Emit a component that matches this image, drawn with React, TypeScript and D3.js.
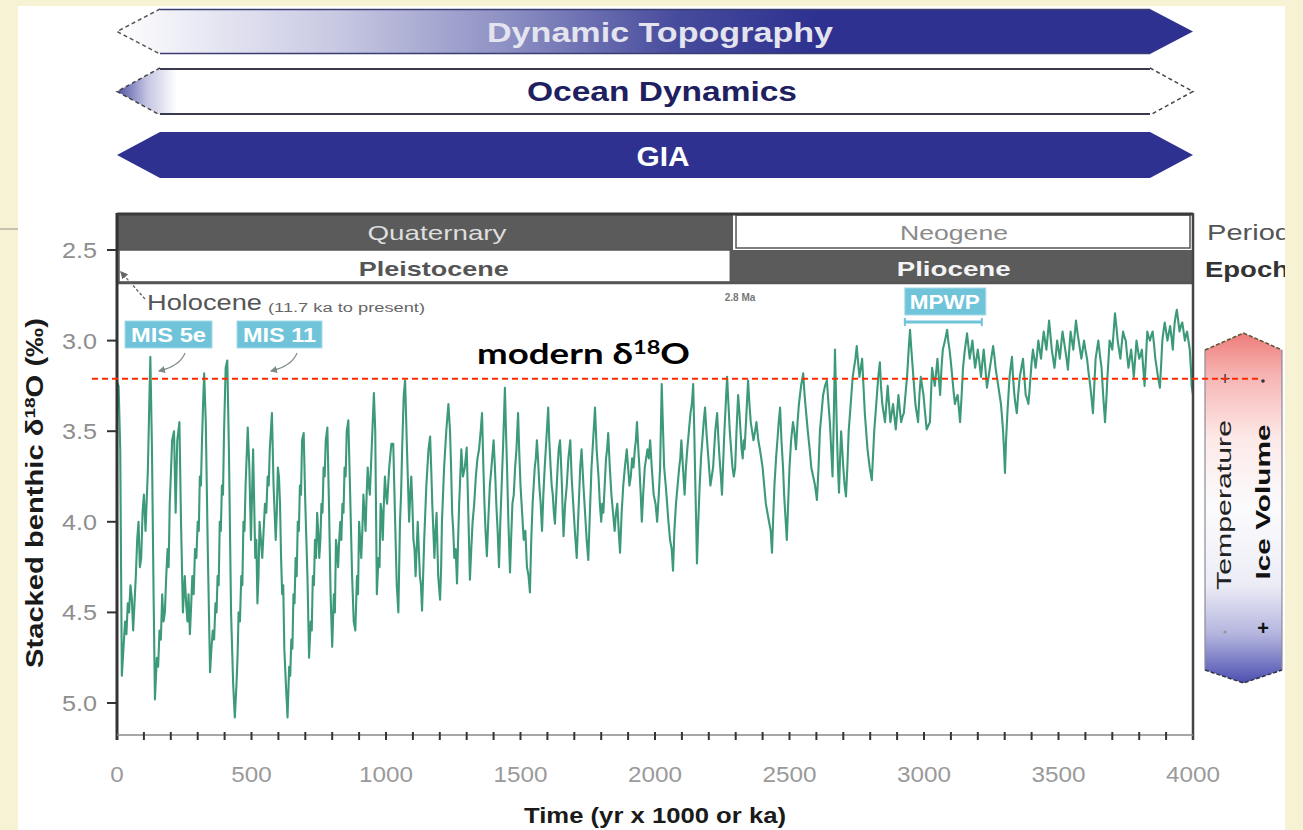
import React from 'react';
import * as d3 from 'd3';

// ---------- data ----------
const xTicks = [0, 500, 1000, 1500, 2000, 2500, 3000, 3500, 4000];
const yTicks = [2.5, 3.0, 3.5, 4.0, 4.5, 5.0];
const minorTickStep = 100;
const drivers = ['Dynamic Topography', 'Ocean Dynamics', 'GIA'];
const periods = [
  { name: 'Quaternary', from: 0, to: 2290 },
  { name: 'Neogene', from: 2290, to: 4000 },
];
const epochs = [
  { name: 'Pleistocene', from: 0, to: 2280 },
  { name: 'Pliocene', from: 2280, to: 4000 },
];
const modernD18O = 3.21;
const misLabels = ['MIS 5e', 'MIS 11'];
const mpwpRange = [2925, 3215];

// [age (ka), stacked benthic d18O (permil)]
const stack: [number, number][] = [
  [0, 3.23], [6, 3.25], [12, 3.6], [18, 4.85], [24, 4.7], [30, 4.55], [35, 4.62], [40, 4.45], [45, 4.5], [50, 4.35], [55, 4.42], [60, 4.6], [65, 4.45], [70, 4.3],
  [75, 4.1], [80, 4.0], [85, 4.25], [90, 4.2], [95, 3.95], [100, 3.85], [106, 4.05], [110, 3.9], [115, 3.7], [120, 3.35], [124, 3.09], [130, 3.6], [136, 4.4], [141, 4.98], [148, 4.75],
  [153, 4.8], [158, 4.6], [163, 4.65], [168, 4.4], [173, 4.55], [178, 4.5], [183, 4.3], [188, 4.15], [192, 4.25], [196, 3.9], [200, 3.75], [205, 3.55], [212, 3.5], [218, 3.95], [224, 3.55], [232, 3.45],
  [238, 4.0], [245, 4.5], [252, 4.3], [257, 4.45], [262, 4.55], [266, 4.4], [271, 4.62], [276, 4.45], [280, 4.3], [285, 4.4], [290, 4.15], [295, 4.2], [300, 4.0], [304, 4.05], [308, 3.75], [312, 3.8], [316, 3.55],
  [320, 3.35], [324, 3.18], [330, 3.45], [338, 4.2], [346, 4.83], [351, 4.7], [356, 4.6], [361, 4.65], [366, 4.45], [370, 4.5], [374, 4.3], [378, 4.35], [382, 4.0], [386, 4.05], [390, 3.8], [394, 3.85], [398, 3.5],
  [404, 3.15], [410, 3.11], [416, 3.6], [424, 4.5], [432, 4.9], [438, 5.08], [444, 4.9], [448, 4.75], [452, 4.5], [457, 4.55], [462, 4.3], [466, 4.35], [470, 4.0], [474, 4.05],
  [478, 3.8], [486, 3.48], [492, 3.7], [498, 4.1], [506, 3.6], [510, 3.9], [514, 4.2], [518, 4.1], [522, 4.45], [526, 4.3], [530, 4.0], [535, 4.1], [540, 4.2], [545, 4.05], [550, 3.9],
  [555, 3.95], [560, 3.75], [564, 3.8], [568, 3.6], [576, 3.4], [582, 3.8], [590, 4.1], [594, 3.95], [598, 3.7], [602, 3.75], [606, 3.9], [610, 4.2], [614, 4.4], [618, 4.35], [622, 4.7], [628, 4.9],
  [634, 5.08], [640, 4.8], [644, 4.85], [648, 4.65], [652, 4.7], [656, 4.4], [660, 4.45], [664, 4.2], [668, 4.3], [672, 4.0], [676, 4.05], [680, 3.8], [684, 3.85], [688, 3.55], [694, 3.51], [700, 3.9],
  [708, 4.3], [714, 4.75], [720, 4.55], [724, 4.6], [728, 4.3], [732, 4.35], [736, 4.1], [740, 4.2], [744, 3.95], [748, 4.05], [752, 4.2], [756, 4.1], [760, 3.9], [764, 3.95], [768, 3.7], [772, 3.75], [776, 3.55],
  [782, 3.48], [788, 3.9], [794, 4.4], [800, 4.69], [806, 4.4], [810, 4.5], [814, 4.1], [818, 4.15], [822, 4.25], [826, 4.1], [830, 4.0], [834, 4.1], [838, 3.9], [842, 3.95], [846, 3.7], [850, 3.75],
  [854, 3.5], [860, 3.44], [866, 3.8], [874, 4.3], [880, 4.55], [886, 4.6], [892, 4.3], [896, 4.4], [900, 4.0], [904, 4.1], [908, 4.2], [912, 4.05], [916, 3.85], [920, 3.95],
  [924, 4.05], [928, 3.85], [932, 3.7], [936, 3.8], [940, 3.85], [944, 3.7], [948, 3.55], [955, 3.29], [960, 3.5], [966, 4.4], [972, 4.2], [976, 4.25], [980, 3.9], [984, 3.95], [988, 4.1],
  [992, 3.9], [996, 3.75], [1000, 3.85], [1004, 3.9], [1008, 3.8], [1012, 3.7], [1020, 3.57], [1027, 3.57], [1034, 4.0], [1040, 4.35], [1046, 4.5], [1052, 4.0], [1056, 3.85], [1060, 3.6],
  [1066, 3.3], [1071, 3.22], [1078, 3.6], [1082, 3.8], [1086, 4.0], [1090, 3.85], [1094, 3.75], [1098, 3.9], [1102, 4.1], [1106, 4.15], [1110, 4.3], [1114, 4.15], [1118, 4.0], [1122, 4.15], [1126, 4.3], [1130, 4.35], [1134, 4.49],
  [1138, 4.3], [1142, 4.1], [1146, 3.95], [1150, 3.8], [1154, 3.7], [1158, 3.6], [1164, 3.53], [1168, 3.7], [1172, 3.9], [1176, 4.05], [1180, 4.2], [1184, 4.05], [1188, 3.95], [1194, 4.3], [1201, 4.43], [1205, 4.25], [1208, 4.0],
  [1212, 3.85], [1216, 3.7], [1220, 3.6], [1224, 3.5], [1232, 3.35], [1238, 3.5], [1242, 3.7], [1246, 3.95], [1250, 4.05], [1254, 4.2], [1259, 4.15], [1264, 4.34], [1268, 4.1], [1272, 3.9], [1276, 3.75], [1280, 3.6], [1286, 3.75],
  [1293, 3.7], [1300, 3.59], [1306, 3.95], [1312, 4.32], [1317, 4.15], [1322, 4.0], [1328, 3.9], [1334, 3.75], [1340, 3.65], [1346, 3.6], [1352, 3.5], [1357, 3.4], [1362, 3.7], [1366, 3.9], [1370, 4.05], [1375, 4.19], [1380, 4.0], [1386, 3.8], [1392, 3.7], [1400, 3.55],
  [1405, 3.7], [1410, 3.9], [1415, 4.05], [1420, 4.25], [1425, 4.0], [1430, 3.8], [1436, 3.55], [1442, 3.26], [1446, 3.5], [1450, 3.7], [1455, 4.0], [1461, 4.28], [1465, 4.1], [1470, 3.9], [1475, 3.85], [1480, 3.7], [1485, 3.6], [1491, 3.4], [1495, 3.6], [1500, 3.8],
  [1506, 3.95], [1512, 4.1], [1518, 4.05], [1524, 4.25], [1530, 4.3], [1535, 4.39], [1540, 4.1], [1545, 3.9], [1549, 3.8], [1553, 3.7], [1557, 3.65], [1561, 3.55], [1565, 3.65], [1570, 3.8], [1575, 3.9], [1580, 4.05], [1585, 3.85], [1590, 3.7], [1596, 3.55], [1603, 3.37],
  [1607, 3.55], [1612, 3.7], [1616, 3.8], [1620, 3.85], [1624, 3.95], [1628, 4.01], [1633, 3.85], [1638, 3.7], [1642, 3.6], [1647, 3.55], [1650, 3.65], [1654, 3.8], [1657, 3.95], [1660, 4.08], [1666, 3.9], [1672, 3.8], [1678, 3.65], [1685, 3.55], [1690, 3.75], [1696, 3.9],
  [1702, 4.05], [1709, 4.2], [1714, 4.0], [1718, 3.85], [1722, 3.7], [1727, 3.6], [1734, 3.8], [1740, 3.95], [1746, 4.1], [1752, 4.21], [1758, 3.95], [1764, 3.7], [1770, 3.55], [1777, 3.37], [1783, 3.6], [1790, 3.75], [1795, 3.9], [1800, 4.0], [1804, 3.9], [1808, 3.95],
  [1813, 3.8], [1818, 3.65], [1822, 3.6], [1826, 3.51], [1832, 3.7], [1838, 3.85], [1844, 3.95], [1850, 4.05], [1855, 3.95], [1860, 3.9], [1865, 4.05], [1870, 4.17], [1876, 3.95], [1882, 3.8], [1888, 3.7], [1895, 3.6], [1900, 3.7], [1905, 3.8], [1910, 3.75], [1915, 3.65],
  [1920, 3.7], [1925, 3.6], [1929, 3.55], [1933, 3.45], [1938, 3.6], [1942, 3.7], [1947, 3.85], [1951, 4.0], [1956, 3.85], [1962, 3.7], [1967, 3.65], [1972, 3.6], [1977, 3.65], [1982, 3.55], [1988, 3.7], [1995, 3.85], [2002, 3.9], [2008, 4.0], [2014, 3.85], [2019, 3.7],
  [2025, 3.24], [2030, 3.5], [2034, 3.7], [2040, 3.8], [2045, 3.9], [2050, 4.0], [2056, 4.1], [2062, 4.15], [2067, 4.27], [2072, 4.05], [2078, 3.9], [2084, 3.8], [2090, 3.7], [2094, 3.65], [2098, 3.55], [2104, 3.7], [2110, 3.85], [2115, 3.7], [2120, 3.6], [2126, 3.5],
  [2132, 3.4], [2137, 3.35], [2142, 3.24], [2146, 3.5], [2150, 3.8], [2153, 4.0], [2156, 4.23], [2161, 4.0], [2166, 3.8], [2171, 3.65], [2176, 3.55], [2181, 3.45], [2186, 3.37], [2191, 3.5], [2196, 3.6], [2201, 3.7], [2206, 3.8], [2211, 3.75], [2216, 3.7], [2220, 3.6],
  [2224, 3.5], [2231, 3.4], [2236, 3.55], [2240, 3.65], [2245, 3.75], [2249, 3.85], [2254, 3.65], [2258, 3.5], [2263, 3.35], [2268, 3.2], [2273, 3.35], [2278, 3.5], [2283, 3.6], [2288, 3.7], [2293, 3.75], [2298, 3.7], [2303, 3.5], [2309, 3.3],
  [2314, 3.4], [2318, 3.5], [2322, 3.6], [2326, 3.65], [2330, 3.55], [2333, 3.6], [2340, 3.4], [2346, 3.22], [2351, 3.35], [2356, 3.45], [2361, 3.5], [2366, 3.55], [2372, 3.5], [2377, 3.45], [2384, 3.55], [2390, 3.6], [2395, 3.65], [2400, 3.7], [2406, 3.8], [2412, 3.9],
  [2418, 3.95], [2424, 4.0], [2430, 4.05], [2435, 4.17], [2440, 3.95], [2444, 3.8], [2450, 3.65], [2455, 3.55], [2460, 3.45], [2465, 3.37], [2470, 3.55], [2476, 3.7], [2480, 3.85], [2484, 3.95], [2490, 4.1], [2495, 3.9], [2500, 3.7], [2506, 3.55], [2513, 3.45],
  [2518, 3.5], [2524, 3.6], [2530, 3.45], [2535, 3.35], [2543, 3.25], [2551, 3.18], [2556, 3.3], [2562, 3.4], [2568, 3.5], [2575, 3.6], [2581, 3.7], [2588, 3.75], [2595, 3.8], [2602, 3.88], [2608, 3.7], [2613, 3.5], [2619, 3.4], [2625, 3.3], [2632, 3.25], [2639, 3.22],
  [2645, 3.35], [2650, 3.45], [2655, 3.6], [2660, 3.75], [2665, 3.4], [2669, 3.05], [2673, 3.3], [2676, 3.5], [2680, 3.7], [2684, 3.84], [2688, 3.65], [2692, 3.5], [2696, 3.6], [2700, 3.7], [2705, 3.8], [2710, 3.86], [2715, 3.7], [2720, 3.5], [2725, 3.4], [2730, 3.3],
  [2735, 3.2], [2740, 3.15], [2745, 3.1], [2750, 3.03], [2755, 3.12], [2760, 3.2], [2765, 3.15], [2770, 3.1], [2775, 3.25], [2780, 3.4], [2785, 3.5], [2790, 3.6], [2798, 3.7], [2806, 3.77], [2810, 3.65], [2815, 3.5], [2820, 3.4], [2825, 3.3], [2830, 3.2], [2836, 3.12],
  [2840, 3.25], [2845, 3.35], [2850, 3.4], [2855, 3.45], [2860, 3.35], [2865, 3.25], [2870, 3.35], [2875, 3.45], [2880, 3.4], [2885, 3.35], [2890, 3.42], [2895, 3.49], [2900, 3.4], [2905, 3.3], [2910, 3.38], [2915, 3.45], [2920, 3.42], [2925, 3.4], [2931, 3.3], [2937, 3.2],
  [2943, 3.05], [2948, 2.94], [2953, 3.05], [2958, 3.15], [2963, 3.25], [2968, 3.35], [2973, 3.4], [2978, 3.45], [2983, 3.3], [2988, 3.2], [2993, 3.25], [2998, 3.3], [3004, 3.4], [3010, 3.49], [3016, 3.47], [3022, 3.45], [3026, 3.3], [3030, 3.15], [3035, 3.2], [3040, 3.25],
  [3045, 3.18], [3050, 3.1], [3055, 3.2], [3060, 3.3], [3065, 3.15], [3070, 3.05], [3078, 3.0], [3086, 2.94], [3090, 3.0], [3095, 3.05], [3100, 3.12], [3105, 3.2], [3110, 3.28], [3115, 3.35], [3120, 3.32], [3125, 3.3], [3130, 3.38], [3134, 3.45], [3140, 3.3], [3145, 3.15],
  [3152, 3.05], [3160, 2.96], [3165, 3.03], [3170, 3.1], [3175, 3.05], [3180, 3.0], [3185, 3.08], [3190, 3.15], [3195, 3.1], [3200, 3.05], [3206, 3.12], [3212, 3.2], [3217, 3.12], [3222, 3.05], [3228, 3.15], [3234, 3.26], [3240, 3.2], [3245, 3.15], [3251, 3.09], [3257, 3.03],
  [3262, 3.09], [3266, 3.15], [3271, 3.2], [3276, 3.25], [3281, 3.3], [3286, 3.35], [3290, 3.42], [3294, 3.5], [3298, 3.62], [3301, 3.73], [3305, 3.55], [3310, 3.4], [3314, 3.3], [3318, 3.2], [3322, 3.15], [3327, 3.09], [3331, 3.2], [3336, 3.3], [3340, 3.35], [3345, 3.4],
  [3350, 3.3], [3356, 3.2], [3362, 3.15], [3368, 3.1], [3373, 3.2], [3378, 3.3], [3383, 3.32], [3388, 3.35], [3392, 3.28], [3396, 3.2], [3400, 3.12], [3405, 3.05], [3410, 3.1], [3415, 3.15], [3420, 3.08], [3425, 3.0], [3430, 3.05], [3435, 3.1], [3440, 3.02], [3445, 2.95],
  [3450, 3.0], [3455, 3.05], [3460, 2.97], [3465, 2.89], [3470, 2.97], [3475, 3.05], [3480, 3.1], [3485, 3.15], [3490, 3.08], [3495, 3.0], [3500, 3.05], [3505, 3.1], [3510, 3.02], [3515, 2.95], [3520, 3.0], [3525, 3.05], [3530, 3.1], [3535, 3.16], [3540, 3.05], [3545, 2.95],
  [3550, 3.0], [3555, 3.05], [3560, 2.97], [3565, 2.89], [3570, 2.95], [3575, 3.0], [3580, 3.05], [3585, 3.1], [3590, 3.05], [3595, 3.0], [3600, 3.05], [3606, 3.1], [3612, 3.18], [3618, 3.25], [3623, 3.32], [3628, 3.4], [3633, 3.25], [3638, 3.1], [3643, 3.05], [3648, 3.0],
  [3654, 3.08], [3660, 3.15], [3666, 3.3], [3673, 3.45], [3678, 3.32], [3682, 3.2], [3686, 3.1], [3690, 3.0], [3695, 3.02], [3700, 3.05], [3705, 2.95], [3710, 2.85], [3715, 2.92], [3720, 3.0], [3725, 3.05], [3730, 3.1], [3735, 3.02], [3740, 2.95], [3745, 2.98], [3750, 3.0],
  [3755, 3.08], [3760, 3.15], [3765, 3.1], [3770, 3.05], [3775, 3.12], [3780, 3.2], [3785, 3.1], [3790, 3.0], [3795, 3.05], [3800, 3.1], [3805, 3.08], [3810, 3.05], [3815, 3.15], [3820, 3.25], [3825, 3.1], [3830, 2.95], [3835, 2.98], [3840, 3.0], [3845, 2.97], [3850, 2.95],
  [3855, 3.02], [3860, 3.1], [3865, 3.15], [3870, 3.2], [3877, 3.26], [3882, 3.12], [3886, 3.0], [3890, 2.95], [3895, 2.9], [3900, 2.95], [3905, 3.0], [3910, 2.96], [3915, 2.92], [3920, 2.98], [3925, 3.05], [3928, 2.97], [3932, 2.9], [3936, 2.86], [3940, 2.83], [3945, 2.89],
  [3950, 2.95], [3955, 2.92], [3960, 2.9], [3965, 2.95], [3970, 3.0], [3974, 2.97], [3978, 2.95], [3983, 3.0], [3988, 3.05], [3992, 3.15], [3995, 3.25], [4000, 3.3],
];

// ---------- layout ----------
const W = 1303;
const H = 830;
const CREAM = '#F8F2D4';
const NAVY = '#2E3190';
const SANS = '"Liberation Sans", Arial, Helvetica, sans-serif';

export default function App() {
  const x = d3.scaleLinear().domain([0, 4000]).range([117, 1193]);
  const y = d3.scaleLinear().domain([2.5, 5.0]).range([250, 703]);
  const plotTop = 213;
  const plotBottom = 735;
  const periodBottom = 250;
  const epochBottom = 284;
  const left = x(0);
  const right = x(4000);

  const line = d3
    .line<[number, number]>()
    .x((d) => x(d[0]))
    .y((d) => y(d[1]));

  const minorTicks = d3.range(minorTickStep, 4000, minorTickStep);

  // driver arrows
  const arrowRows = [
    { top: 9, bot: 54 },
    { top: 68, bot: 115 },
    { top: 132, bot: 178 },
  ];
  const head = 43;
  const arrowPts = (t: number, b: number) => {
    const m = (t + b) / 2;
    return `${left},${m} ${left + head},${t} ${right - head},${t} ${right},${m} ${right - head},${b} ${left + head},${b}`;
  };

  const yModern = y(modernD18O);
  const tickLabelWidth = (t: number) => String(t).length * 13.5;

  return (
    <svg
      width={W}
      height={H}
      viewBox={`0 0 ${W} ${H}`}
      style={{ position: 'absolute', left: 0, top: 0, display: 'block' }}
    >
      <defs>
        <linearGradient id="dtGrad" gradientUnits="userSpaceOnUse" x1={left} y1="0" x2={right} y2="0">
          <stop offset="0" stopColor="#ffffff" />
          <stop offset="0.04" stopColor="#f3f3f9" />
          <stop offset="0.2" stopColor="#c9cae3" />
          <stop offset="0.36" stopColor="#8e91c4" />
          <stop offset="0.52" stopColor="#474b9c" />
          <stop offset="0.65" stopColor={NAVY} />
          <stop offset="1" stopColor={NAVY} />
        </linearGradient>
        <linearGradient id="odGrad" gradientUnits="userSpaceOnUse" x1={left} y1="0" x2={left + 60} y2="0">
          <stop offset="0" stopColor="#4e52a4" />
          <stop offset="0.5" stopColor="#c4c5e2" />
          <stop offset="1" stopColor="#ffffff" />
        </linearGradient>
        <linearGradient id="tempGrad" x1="0" y1="0" x2="0" y2="1">
          <stop offset="0" stopColor="#ee7c7a" />
          <stop offset="0.12" stopColor="#f6b4b2" />
          <stop offset="0.3" stopColor="#fde9e8" />
          <stop offset="0.5" stopColor="#fbfbfd" />
          <stop offset="0.72" stopColor="#ececf6" />
          <stop offset="0.86" stopColor="#b4b5de" />
          <stop offset="1" stopColor="#4c4fb0" />
        </linearGradient>
        <marker id="ah" viewBox="0 0 6 6" refX="5" refY="3" markerWidth="6" markerHeight="6" orient="auto">
          <path d="M0,0 L6,3 L0,6 z" fill="#7d8a88" />
        </marker>
        <marker id="ah2" viewBox="0 0 6 6" refX="5" refY="3" markerWidth="6" markerHeight="6" orient="auto">
          <path d="M0,0 L6,3 L0,6 z" fill="#666" />
        </marker>
      </defs>

      {/* background */}
      <rect x={0} y={0} width={W} height={H} fill={CREAM} />
      <rect x={18} y={6} width={1267} height={H - 6} fill="#ffffff" />
      <line x1={0} x2={18} y1={229} y2={229} stroke="#b9b3a2" strokeWidth={1.5} />

      {/* driver arrows */}
      <polygon points={arrowPts(arrowRows[0].top, arrowRows[0].bot)} fill="url(#dtGrad)" />
      <line x1={left + head} x2={right - head} y1={arrowRows[0].top + 0.5} y2={arrowRows[0].top + 0.5} stroke="#3b3d70" strokeWidth={1.5} />
      <line x1={left + head} x2={right - head} y1={arrowRows[0].bot - 0.5} y2={arrowRows[0].bot - 0.5} stroke="#3b3d70" strokeWidth={1.5} />
      <polyline
        points={`${left + head},${arrowRows[0].top} ${left},${(arrowRows[0].top + arrowRows[0].bot) / 2} ${left + head},${arrowRows[0].bot}`}
        fill="none" stroke="#555" strokeWidth={1.5} strokeDasharray="4 3"
      />
      <polygon points={arrowPts(arrowRows[1].top, arrowRows[1].bot)} fill="#ffffff" />
      <polygon
        points={`${left + head},${arrowRows[1].top} ${left},${(arrowRows[1].top + arrowRows[1].bot) / 2} ${left + head},${arrowRows[1].bot} ${left + 62},${arrowRows[1].bot} ${left + 62},${arrowRows[1].top}`}
        fill="url(#odGrad)"
      />
      <line x1={left + head} x2={right - head} y1={arrowRows[1].top + 1} y2={arrowRows[1].top + 1} stroke="#3a3a4e" strokeWidth={2} />
      <line x1={left + head} x2={right - head} y1={arrowRows[1].bot - 1} y2={arrowRows[1].bot - 1} stroke="#3a3a4e" strokeWidth={2} />
      <polyline
        points={`${left + head},${arrowRows[1].top} ${left},${(arrowRows[1].top + arrowRows[1].bot) / 2} ${left + head},${arrowRows[1].bot}`}
        fill="none" stroke="#444" strokeWidth={1.5} strokeDasharray="4 3"
      />
      <polyline
        points={`${right - head},${arrowRows[1].top} ${right},${(arrowRows[1].top + arrowRows[1].bot) / 2} ${right - head},${arrowRows[1].bot}`}
        fill="none" stroke="#444" strokeWidth={1.5} strokeDasharray="4 3"
      />
      <polygon points={arrowPts(arrowRows[2].top, arrowRows[2].bot)} fill={NAVY} />

      <text x={660} y={42} textAnchor="middle" fontFamily={SANS} fontWeight="bold" fontSize={27}
        fill="#e4e4ee" textLength={346} lengthAdjust="spacingAndGlyphs">{drivers[0]}</text>
      <text x={662} y={101} textAnchor="middle" fontFamily={SANS} fontWeight="bold" fontSize={27}
        fill="#1e2060" textLength={270} lengthAdjust="spacingAndGlyphs">{drivers[1]}</text>
      <text x={663} y={166} textAnchor="middle" fontFamily={SANS} fontWeight="bold" fontSize={27}
        fill="#ffffff" textLength={53} lengthAdjust="spacingAndGlyphs">{drivers[2]}</text>

      {/* period / epoch bands */}
      <rect x={left} y={plotTop} width={x(periods[0].to) - left} height={periodBottom - plotTop} fill="#5b5b5b" />
      <rect x={x(periods[1].from) + 3} y={plotTop + 2} width={x(periods[1].to) - x(periods[1].from) - 6}
        height={periodBottom - plotTop - 4} fill="#fff" stroke="#555" strokeWidth={1.5} />
      <rect x={left + 2} y={periodBottom} width={x(epochs[0].to) - left - 2} height={epochBottom - periodBottom - 2}
        fill="#fff" stroke="#555" strokeWidth={1.5} />
      <rect x={x(epochs[1].from)} y={periodBottom} width={x(epochs[1].to) - x(epochs[1].from)} height={epochBottom - periodBottom}
        fill="#5b5b5b" />
      <line x1={left} x2={right} y1={epochBottom - 1} y2={epochBottom - 1} stroke="#555" strokeWidth={2.5} />

      <text x={437} y={240} textAnchor="middle" fontFamily={SANS} fontSize={21}
        fill="#dedede" textLength={139} lengthAdjust="spacingAndGlyphs">{periods[0].name}</text>
      <text x={(x(periods[1].from) + right) / 2 - 9} y={240} textAnchor="middle" fontFamily={SANS} fontSize={21}
        fill="#8a8a8a" textLength={108} lengthAdjust="spacingAndGlyphs">{periods[1].name}</text>
      <text x={(left + x(epochs[0].to)) / 2 + 10} y={276} textAnchor="middle" fontFamily={SANS} fontWeight="bold" fontSize={21}
        fill="#555" textLength={150} lengthAdjust="spacingAndGlyphs">{epochs[0].name}</text>
      <text x={(x(epochs[1].from) + right) / 2 - 8} y={276} textAnchor="middle" fontFamily={SANS} fontWeight="bold" fontSize={21}
        fill="#f4f4f4" textLength={114} lengthAdjust="spacingAndGlyphs">{epochs[1].name}</text>

      <text x={1207} y={240} fontFamily={SANS} fontSize={22} fill="#555" textLength={84} lengthAdjust="spacingAndGlyphs">Period</text>
      <text x={1205} y={277} fontFamily={SANS} fontWeight="bold" fontSize={22} fill="#333" textLength={84} lengthAdjust="spacingAndGlyphs">Epoch</text>

      {/* data line */}
      <path d={line(stack) || ''} fill="none" stroke="#3d9a78" strokeWidth={2.1} strokeLinejoin="round" />

      {/* frame */}
      <line x1={left} x2={left} y1={plotTop} y2={plotBottom + 5} stroke="#333" strokeWidth={3} />
      <line x1={left} x2={right} y1={plotTop + 1} y2={plotTop + 1} stroke="#3a3a3a" strokeWidth={3} />
      <line x1={right} x2={right} y1={plotTop} y2={plotBottom + 5} stroke="#444" strokeWidth={2.5} />
      <line x1={left} x2={right} y1={plotBottom} y2={plotBottom} stroke="#8a8a8a" strokeWidth={1.5} />

      {/* x ticks */}
      {minorTicks.map((t) => (
        <line key={`mt${t}`} x1={x(t)} x2={x(t)} y1={plotBottom - 3} y2={plotBottom + 5} stroke="#333" strokeWidth={2} />
      ))}
      {xTicks.map((t) => (
        <text key={`xt${t}`} x={x(t)} y={782} textAnchor="middle" fontFamily={SANS} fontSize={22} fill="#9a9a9a"
          textLength={tickLabelWidth(t)} lengthAdjust="spacingAndGlyphs">
          {t}
        </text>
      ))}
      {yTicks.map((v) => (
        <g key={`yt${v}`}>
          <line x1={left - 10} x2={left} y1={y(v)} y2={y(v)} stroke="#333" strokeWidth={2} />
          <text x={97} y={y(v) + 8} textAnchor="end" fontFamily={SANS} fontSize={22} fill="#8e8e8e"
            textLength={35} lengthAdjust="spacingAndGlyphs">
            {v.toFixed(1)}
          </text>
        </g>
      ))}

      {/* axis titles */}
      <text x={655} y={823} textAnchor="middle" fontFamily={SANS} fontWeight="bold" fontSize={22} fill="#1a1a1a"
        textLength={262} lengthAdjust="spacingAndGlyphs">Time (yr x 1000 or ka)</text>
      <text transform="translate(43,493) rotate(-90)" textAnchor="middle" fontFamily={SANS} fontWeight="bold"
        fontSize={23} fill="#1a1a1a" textLength={350} lengthAdjust="spacingAndGlyphs">
        Stacked benthic δ<tspan fontSize={15} dy={-8}>18</tspan><tspan dy={8}>O (‰)</tspan>
      </text>

      {/* annotations */}
      <line x1={145} y1={299} x2={121} y2={272} stroke="#666" strokeWidth={1.3} strokeDasharray="3 2" markerEnd="url(#ah2)" />
      <text x={147} y={310} fontFamily={SANS} fontSize={22} fill="#555" textLength={115} lengthAdjust="spacingAndGlyphs">Holocene</text>
      <text x={268} y={312} fontFamily={SANS} fontSize={12} fill="#666" textLength={157} lengthAdjust="spacingAndGlyphs">(11.7 ka to present)</text>

      {misLabels.map((m, i) => {
        const bx = i === 0 ? 125 : 237;
        const bw = i === 0 ? 87 : 85;
        return (
          <g key={m}>
            <rect x={bx} y={321} width={bw} height={27} fill="#6fc4da" stroke="#a8dcea" strokeWidth={1} />
            <text x={bx + bw / 2} y={342} textAnchor="middle" fontFamily={SANS} fontWeight="bold" fontSize={20}
              fill="#ffffff" textLength={bw - 12} lengthAdjust="spacingAndGlyphs">{m}</text>
            <path d={`M${bx + 60},353 Q${bx + 55},366 ${bx + 34},371`} fill="none" stroke="#7d8a88" strokeWidth={1.2}
              markerEnd="url(#ah)" />
          </g>
        );
      })}

      <rect x={x(mpwpRange[0]) + 1} y={288} width={x(mpwpRange[1]) - x(mpwpRange[0]) + 3} height={27} fill="#6fc4da"
        stroke="#a8dcea" strokeWidth={1} />
      <text x={(x(mpwpRange[0]) + x(mpwpRange[1])) / 2 + 2} y={309} textAnchor="middle" fontFamily={SANS} fontWeight="bold"
        fontSize={20} fill="#ffffff" textLength={70} lengthAdjust="spacingAndGlyphs">MPWP</text>
      <line x1={x(mpwpRange[0]) + 1} x2={x(mpwpRange[1])} y1={322} y2={322} stroke="#6fc4da" strokeWidth={3} />
      <line x1={x(mpwpRange[0]) + 1} x2={x(mpwpRange[0]) + 1} y1={318} y2={326} stroke="#6fc4da" strokeWidth={2} />
      <line x1={x(mpwpRange[1])} x2={x(mpwpRange[1])} y1={318} y2={326} stroke="#6fc4da" strokeWidth={2} />

      <text x={740} y={301} textAnchor="middle" fontFamily={SANS} fontWeight="bold" fontSize={10} fill="#777">2.8 Ma</text>

      {/* temperature / ice volume bar */}
      <polygon points="1205,350 1243.5,333 1282,350 1282,670 1243.5,683 1205,670" fill="url(#tempGrad)" />
      <line x1={1205} x2={1205} y1={350} y2={670} stroke="#8a8a9a" strokeWidth={1.2} />
      <line x1={1282} x2={1282} y1={350} y2={670} stroke="#8a8a9a" strokeWidth={1.2} />
      <polyline points="1205,350 1243.5,333 1282,350" fill="none" stroke="#553" strokeWidth={1.5} strokeDasharray="4 2" />
      <polyline points="1205,670 1243.5,683 1282,670" fill="none" stroke="#334" strokeWidth={1.5} strokeDasharray="4 2" />
      <text transform="translate(1231,505) rotate(-90)" textAnchor="middle" fontFamily={SANS} fontSize={20} fill="#222"
        textLength={170} lengthAdjust="spacingAndGlyphs">Temperature</text>
      <text transform="translate(1270,502) rotate(-90)" textAnchor="middle" fontFamily={SANS} fontWeight="bold" fontSize={20}
        fill="#111" textLength={155} lengthAdjust="spacingAndGlyphs">Ice Volume</text>
      <text x={1225} y={385} textAnchor="middle" fontFamily={SANS} fontSize={18} fill="#333">+</text>
      <circle cx={1263} cy={381} r={1.8} fill="#333" />
      <circle cx={1225} cy={632} r={1.6} fill="#999" />
      <text x={1263} y={635} textAnchor="middle" fontFamily={SANS} fontWeight="bold" fontSize={20} fill="#111">+</text>

      {/* modern d18O */}
      <line x1={92} x2={1258} y1={yModern} y2={yModern} stroke="#ff2a00" strokeWidth={2} strokeDasharray="6 4" />
      <text x={477} y={364} fontFamily='Lato, "Open Sans", sans-serif' fontWeight="bold" fontSize={28} fill="#000"
        textLength={213} lengthAdjust="spacingAndGlyphs">
        modern δ<tspan fontSize={18} dy={-10}>18</tspan><tspan dy={10}>O</tspan>
      </text>

      {/* right cream strip */}
      <rect x={1285} y={0} width={W - 1285} height={H} fill={CREAM} />
    </svg>
  );
}
